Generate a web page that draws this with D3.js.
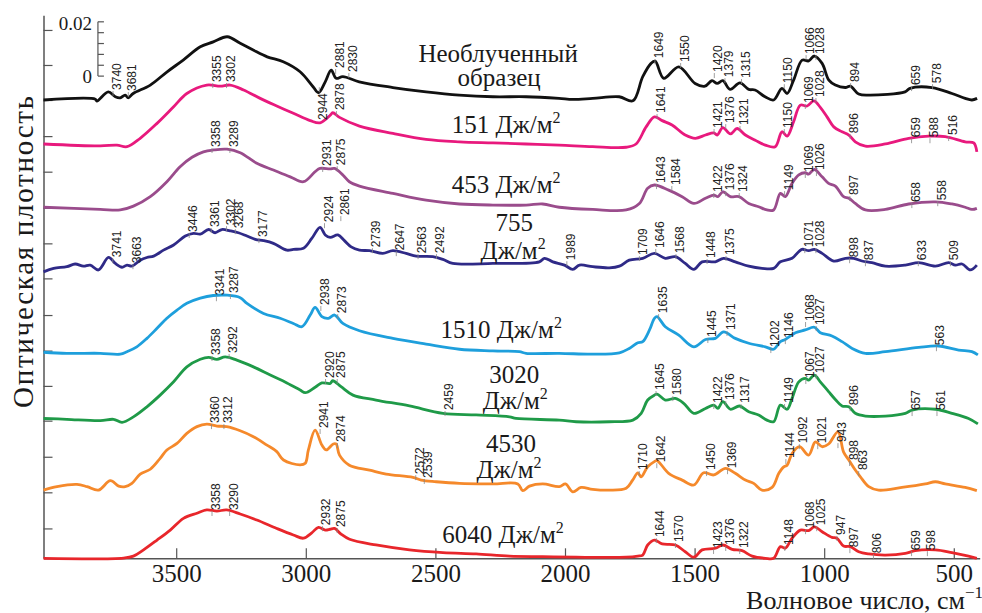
<!DOCTYPE html>
<html>
<head>
<meta charset="utf-8">
<script src="https://cdn.jsdelivr.net/npm/d3@7"></script>
<style>
  body { margin: 0; background: #fff; }
  svg { display: block; }
</style>
</head>
<body>
<script>
// IR spectra, wavenumber (cm-1) vs optical density x 1000 (curves stacked as in the figure)
const unirradiated = [[4012,168.8],[3812,169.1],[3806,168.4],[3762,171.8],[3735,170.0],[3716,169.6],[3697,170.6],[3685,169.6],[3666,171.2],[3600,174.3],[3535,179.2],[3473,183.5],[3407,188.4],[3357,190.2],[3303,192.1],[3253,189.7],[3203,187.2],[3149,184.7],[3087,182.9],[3022,179.2],[2972,173.7],[2951,171.5],[2925,175.5],[2902,179.8],[2883,176.8],[2857,177.4],[2794,175.5],[2664,173.4],[2536,171.8],[2408,170.6],[2278,170.0],[2150,170.0],[2023,169.4],[1970,169.0],[1893,169.4],[1791,170.0],[1738,168.5],[1700,177.4],[1668,182.3],[1652,183.1],[1619,176.8],[1561,181.0],[1498,174.9],[1460,173.9],[1433,175.9],[1413,174.9],[1391,175.9],[1363,172.7],[1325,175.1],[1291,172.7],[1267,172.5],[1228,170.0],[1195,168.8],[1163,173.1],[1143,171.2],[1118,176.1],[1085,183.5],[1060,183.2],[1038,185.0],[1008,182.3],[982,176.1],[957,174.3],[918,173.4],[899,173.9],[867,171.0],[828,170.6],[688,171.8],[669,173.1],[584,173.4],[507,171.2],[456,169.4],[430,168.8],[410,169.4]];

const dose151 = [[4012,152.6],[3793,151.9],[3729,152.2],[3690,151.6],[3639,154.7],[3574,160.2],[3510,166.3],[3459,171.2],[3382,174.3],[3330,173.9],[3292,174.3],[3240,172.5],[3176,169.4],[3112,166.6],[3048,163.9],[2983,161.2],[2945,160.4],[2906,163.2],[2896,164.1],[2870,162.4],[2793,159.2],[2664,156.5],[2536,154.3],[2407,153.4],[2278,153.0],[2150,152.6],[2022,152.2],[1893,151.6],[1764,151.4],[1726,152.6],[1687,158.9],[1655,162.6],[1625,161.2],[1587,159.6],[1536,155.9],[1497,154.7],[1458,155.9],[1426,156.7],[1413,155.9],[1391,158.6],[1362,156.3],[1336,158.3],[1304,155.9],[1266,154.0],[1227,152.2],[1189,151.6],[1163,157.1],[1143,155.5],[1118,160.8],[1092,166.9],[1066,166.6],[1040,168.5],[1015,166.1],[989,162.6],[963,158.9],[931,157.1],[905,155.9],[880,153.4],[841,151.8],[764,152.6],[674,154.7],[597,155.5],[533,155.3],[456,153.4],[423,153.0],[411,149.7]];

const dose453 = [[4012,129.3],[3793,128.5],[3716,128.3],[3665,129.7],[3600,133.2],[3536,138.7],[3485,144.2],[3439,147.7],[3395,149.7],[3356,150.4],[3304,150.7],[3253,149.4],[3189,145.5],[3125,143.0],[3060,140.5],[3009,138.7],[2964,142.4],[2945,143.6],[2906,143.4],[2889,143.6],[2857,141.2],[2832,138.7],[2793,137.1],[2664,134.4],[2536,131.9],[2407,130.5],[2278,130.1],[2150,130.1],[2086,130.5],[2022,129.3],[1893,128.5],[1764,128.3],[1713,130.7],[1681,136.3],[1655,137.5],[1600,135.6],[1548,133.2],[1503,130.7],[1458,132.6],[1426,133.8],[1410,133.2],[1391,135.0],[1362,133.2],[1329,133.2],[1291,130.7],[1253,129.5],[1221,128.3],[1195,128.3],[1169,134.4],[1150,133.2],[1124,138.1],[1098,141.2],[1073,142.0],[1060,141.5],[1038,143.2],[1008,140.5],[983,138.1],[957,137.1],[925,133.2],[905,132.6],[880,130.7],[841,128.3],[764,128.5],[674,130.5],[571,131.3],[507,130.5],[456,129.3],[430,128.5],[411,128.9]];

const dose755 = [[4012,105.5],[3973,106.8],[3922,107.4],[3890,108.4],[3858,107.6],[3832,108.0],[3800,106.2],[3761,110.8],[3735,108.6],[3709,107.2],[3690,108.0],[3671,107.6],[3639,109.8],[3613,110.8],[3587,111.3],[3549,113.5],[3510,115.4],[3465,118.7],[3433,119.7],[3407,119.4],[3375,121.1],[3350,119.9],[3324,121.1],[3292,120.6],[3260,119.9],[3227,118.7],[3195,117.5],[3163,117.0],[3125,116.0],[3073,113.5],[3048,113.8],[3009,114.2],[2977,117.8],[2945,121.9],[2925,119.1],[2906,118.2],[2876,119.1],[2851,117.0],[2825,114.7],[2793,113.5],[2754,113.3],[2703,112.3],[2664,113.3],[2613,112.3],[2574,111.3],[2510,111.1],[2471,110.1],[2433,108.6],[2278,108.6],[2099,109.2],[2079,110.5],[2047,109.2],[2002,108.0],[1970,106.4],[1944,108.0],[1893,107.4],[1829,107.0],[1790,107.6],[1752,109.8],[1700,110.5],[1655,112.3],[1613,110.5],[1574,111.1],[1536,108.6],[1503,106.4],[1471,109.2],[1420,109.2],[1388,110.5],[1343,109.2],[1291,107.6],[1240,106.8],[1195,106.8],[1169,109.2],[1124,110.5],[1086,113.8],[1060,113.3],[1038,113.8],[1008,112.3],[963,109.5],[918,110.5],[886,110.5],[854,109.5],[816,108.9],[764,107.6],[687,108.0],[635,108.9],[571,107.6],[520,108.9],[494,108.0],[468,108.4],[436,106.2],[411,108.0]];

const dose1510 = [[4012,75.9],[3922,75.5],[3793,75.5],[3716,75.2],[3690,76.1],[3652,77.9],[3613,81.0],[3574,84.7],[3536,88.4],[3497,91.4],[3459,93.9],[3407,95.8],[3357,96.8],[3303,96.9],[3253,96.0],[3227,93.9],[3163,90.2],[3099,88.4],[3048,86.5],[3015,85.3],[2983,89.6],[2964,92.4],[2938,89.0],[2913,88.4],[2889,89.6],[2857,86.5],[2793,83.8],[2664,81.0],[2536,78.9],[2407,77.0],[2278,76.4],[2176,76.1],[2150,75.5],[2022,75.5],[1893,75.2],[1790,75.7],[1752,77.3],[1719,79.4],[1700,79.8],[1674,84.1],[1655,88.4],[1645,89.0],[1613,85.3],[1561,82.2],[1503,77.9],[1458,80.6],[1420,81.0],[1388,83.4],[1343,81.0],[1291,79.2],[1227,77.9],[1195,77.0],[1169,79.8],[1150,80.6],[1111,83.1],[1073,84.1],[1038,85.1],[1015,83.1],[970,81.9],[931,79.8],[892,77.3],[841,75.5],[764,76.1],[635,77.7],[558,78.2],[481,76.7],[430,76.1],[407,74.9]];

const dose3020 = [[4012,51.5],[3922,51.2],[3793,50.7],[3742,51.2],[3709,50.1],[3665,52.1],[3613,55.8],[3562,60.1],[3510,65.0],[3459,70.5],[3407,73.3],[3375,74.0],[3343,73.3],[3311,74.2],[3266,73.0],[3202,70.5],[3137,67.5],[3073,64.6],[3022,62.0],[3002,61.0],[2964,63.0],[2938,64.6],[2906,64.4],[2896,65.4],[2864,63.2],[2818,60.1],[2729,58.3],[2600,56.1],[2471,53.4],[2343,52.8],[2214,52.1],[2189,51.5],[2022,50.9],[1957,50.3],[1829,50.3],[1738,50.9],[1706,53.4],[1681,58.3],[1655,60.1],[1645,60.5],[1613,58.3],[1574,58.9],[1542,57.1],[1503,53.4],[1458,55.2],[1426,56.4],[1410,55.2],[1391,57.7],[1362,54.9],[1327,56.1],[1291,54.0],[1253,52.8],[1221,50.9],[1195,50.3],[1169,56.4],[1143,54.9],[1124,58.9],[1098,65.0],[1073,66.3],[1060,65.6],[1038,67.5],[1015,65.0],[983,61.4],[957,58.5],[931,56.1],[905,55.8],[880,53.4],[841,52.4],[764,52.4],[687,53.4],[661,54.6],[571,54.9],[507,53.4],[443,51.5],[407,49.5]];

const dose4530 = [[4012,25.1],[3960,26.4],[3883,27.2],[3844,26.4],[3800,25.1],[3754,28.6],[3722,26.6],[3697,26.4],[3671,27.6],[3639,31.0],[3600,32.8],[3562,36.8],[3536,39.9],[3497,42.3],[3459,46.0],[3420,48.5],[3382,49.4],[3343,48.7],[3305,48.5],[3253,47.0],[3202,44.8],[3150,41.7],[3112,39.3],[3086,36.2],[3022,34.4],[3002,35.0],[2990,39.9],[2964,47.2],[2938,41.7],[2921,39.9],[2894,42.1],[2883,42.1],[2870,38.0],[2832,34.3],[2754,32.5],[2690,31.0],[2587,29.8],[2555,28.8],[2497,28.2],[2407,27.6],[2278,27.4],[2182,27.4],[2163,24.9],[2137,26.6],[2086,27.4],[2022,26.4],[1998,27.4],[1970,24.5],[1938,26.1],[1893,25.4],[1829,25.1],[1764,25.8],[1739,28.8],[1719,31.5],[1706,30.0],[1681,33.7],[1655,35.6],[1645,36.0],[1600,31.3],[1548,28.8],[1503,27.0],[1465,31.5],[1426,30.7],[1381,33.1],[1343,31.3],[1304,28.8],[1272,27.6],[1240,25.1],[1201,26.1],[1175,31.3],[1156,33.7],[1143,34.3],[1124,38.6],[1095,41.1],[1060,38.0],[1034,42.9],[1008,41.1],[983,42.1],[947,46.6],[925,39.1],[905,36.2],[880,32.5],[861,30.1],[828,26.4],[790,25.1],[700,26.1],[610,27.4],[571,28.2],[533,27.4],[456,26.1],[411,24.9]];

const dose6040 = [[4012,0.0],[3703,0.1],[3665,0.8],[3626,3.1],[3574,6.7],[3523,10.4],[3472,14.7],[3420,16.6],[3382,17.8],[3343,17.4],[3305,17.8],[3253,16.3],[3189,14.1],[3112,11.0],[3048,8.6],[3009,7.4],[2977,9.4],[2951,11.4],[2925,10.4],[2906,10.7],[2889,11.0],[2864,8.9],[2831,7.0],[2729,4.9],[2600,3.1],[2471,2.1],[2343,1.6],[2214,0.8],[2086,0.6],[1957,0.4],[1764,0.4],[1719,0.8],[1700,1.2],[1681,4.9],[1655,6.7],[1625,5.3],[1574,4.9],[1536,2.4],[1503,0.4],[1471,3.1],[1420,3.7],[1391,4.9],[1355,3.3],[1317,2.8],[1278,0.8],[1227,0.0],[1195,0.0],[1169,4.3],[1150,3.7],[1124,7.4],[1092,10.4],[1060,10.2],[1038,11.6],[1008,9.8],[970,7.7],[951,7.4],[925,4.5],[899,4.3],[867,2.4],[828,1.6],[764,1.2],[687,1.8],[649,2.8],[571,3.1],[507,2.1],[443,0.8],[411,0.0]];

// peak labels: [wavenumber, level of the label foot]; 'below' hangs the label under the curve
const peaks0 = [[3740,172.5],[3681,172.1],[2944,171.3,'below'],[2881,180.6],[2830,179.1],[1649,184.2],[1550,182.8],[1420,179.1],[1379,177.2],[1315,176.9],[1150,175.0],[1066,185.7],[1028,185.7],[894,175.4],[659,174.3],[578,175.0]];
const peaks1 = [[3355,175.4],[3302,175.4],[2878,165.1],[1641,164.0],[1421,158.5],[1376,160.3],[1321,159.6],[1150,158.5],[1069,167.7],[1028,169.9],[896,156.6],[659,155.1],[588,155.1],[516,155.9]];
const peaks2 = [[3358,151.5],[3289,151.5],[2931,144.5],[2875,144.8],[1643,138.2],[1584,137.5],[1422,134.9],[1376,135.6],[1324,134.9],[1149,135.6],[1069,142.3],[1026,143.0],[897,133.8],[658,131.2],[558,131.9]];
const peaks3 = [[3741,110.9],[3663,108.7],[3446,120.2],[3361,122.0],[3302,122.7],[3268,121.6],[3177,118.3],[2924,123.8],[2861,126.4],[2739,114.6],[2647,113.5],[2563,112.4],[2492,112.4],[1989,109.8],[1709,111.7],[1646,114.3],[1568,112.4],[1448,110.6],[1375,111.7],[1071,114.6],[1028,114.6],[898,110.9],[837,109.8],[633,109.8],[509,109.8]];
const peaks4 = [[3341,96.9],[3287,97.7],[2938,93.3],[2873,90.3],[1635,90.3],[1445,81.5],[1371,84.1],[1202,77.8],[1146,81.1],[1068,87.4],[1027,85.9],[563,78.5]];
const peaks5 = [[3358,74.9],[3292,75.6],[2920,66.4],[2875,66.4],[2459,54.6],[1645,62.0],[1580,60.1],[1422,57.2],[1376,58.3],[1317,57.2],[1149,57.2],[1067,66.4],[1027,68.2],[896,56.4],[657,54.6],[561,54.6]];
const peaks6 = [[3360,49.8],[3312,49.8],[2941,48.0],[2874,42.8],[2572,31.0],[2539,29.6],[1710,32.5],[1642,35.4],[1450,32.5],[1369,33.2],[1144,36.9],[1092,42.4],[1021,42.4],[943,42.8],[898,36.2],[863,32.5]];
const peaks7 = [[3358,17.8],[3290,17.8],[2932,12.2],[2875,11.5],[1644,7.8],[1570,6.0],[1423,3.8],[1376,4.9],[1322,3.8],[1148,4.9],[1068,11.1],[1025,12.2],[947,8.6],[897,4.1],[806,1.9],[659,3.0],[598,3.0]];

// curve captions: [wavenumber of centre, level of baseline, text, superscript]
const captions = [
  [2258, 182.8, 'Необлученный', ''],
  [2254, 174.0, 'образец', ''],
  [2227, 156.6, '151 Дж/м', '2'],
  [2227, 134.4, '453 Дж/м', '2'],
  [2196, 120.4, '755', ''],
  [2200, 110.4, 'Дж/м', '2'],
  [2246, 81.1, '1510 Дж/м', '2'],
  [2196, 64.7, '3020', ''],
  [2192, 55.1, 'Дж/м', '2'],
  [2208, 39.3, '4530', ''],
  [2216, 29.7, 'Дж/м', '2'],
  [2239, 5.6, '6040 Дж/м', '2']
];

const xTicks = [3500, 3000, 2500, 2000, 1500, 1000, 500];
const yTicks = [11.0, 24.3, 37.4, 50.7, 63.5, 76.5, 89.6, 103.1, 116.0, 129.1, 142.4, 155.5, 168.8, 181.7, 194.6];
// 0.02 scale bar (x1000 units)
const scaleBar = { w: 3802, from: 177.6, to: 197.6, step: 4 };

const spectra = [unirradiated, dose151, dose453, dose755, dose1510, dose3020, dose4530, dose6040];
const peaks = [peaks0, peaks1, peaks2, peaks3, peaks4, peaks5, peaks6, peaks7];
const colors = ['#111111', '#e8197d', '#9a4c8c', '#2f2a87', '#1e9fdc', '#1f9a48', '#f5892b', '#e8262b'];

const serif = "'Liberation Serif', 'Times New Roman', serif";
const sans = "'Liberation Sans', Arial, sans-serif";

const width = 982, height = 613;
const svg = d3.select('body').append('svg')
  .attr('width', width)
  .attr('height', height);

const x = d3.scaleLinear().domain([4012, 400]).range([43.5, 979.7]);
const y = d3.scaleLinear().domain([0, 200]).range([558.3, 15.3]);

// axes
const xAxis = svg.append('g')
  .attr('transform', 'translate(0,' + y(0) + ')')
  .call(d3.axisBottom(x).tickValues(xTicks).tickSize(-10).tickSizeOuter(0).tickFormat(d3.format('d')));
xAxis.select('.domain').attr('stroke', '#555').attr('stroke-width', 1.5);
xAxis.selectAll('.tick line').attr('stroke', '#555').attr('stroke-width', 1.2);
xAxis.selectAll('.tick text')
  .attr('y', 23.4).attr('dy', null)
  .attr('font-family', serif).attr('font-size', 25).attr('fill', '#1a1a1a');

const yAxis = svg.append('g')
  .attr('transform', 'translate(' + x(4012) + ',0)')
  .call(d3.axisLeft(y).tickValues(yTicks).tickSize(-9).tickSizeOuter(0).tickFormat(''));
yAxis.select('.domain').attr('stroke', '#555').attr('stroke-width', 1.5);
yAxis.selectAll('.tick line').attr('stroke', '#555').attr('stroke-width', 1.2);

// scale bar
const sb = svg.append('g').attr('stroke', '#555').attr('stroke-width', 1.2);
sb.append('line')
  .attr('x1', x(scaleBar.w)).attr('x2', x(scaleBar.w))
  .attr('y1', y(scaleBar.from)).attr('y2', y(scaleBar.to));
sb.selectAll('line.t')
  .data(d3.range(scaleBar.from, scaleBar.to + 0.01, scaleBar.step))
  .join('line').attr('class', 't')
  .attr('x1', x(scaleBar.w)).attr('x2', x(scaleBar.w) + 6)
  .attr('y1', d => y(d)).attr('y2', d => y(d));
svg.append('text')
  .attr('x', x(scaleBar.w) - 6).attr('y', y(scaleBar.to) + 8.5)
  .attr('text-anchor', 'end').attr('font-family', serif).attr('font-size', 19).attr('fill', '#1a1a1a')
  .text('0.02');
svg.append('text')
  .attr('x', x(scaleBar.w) - 6).attr('y', y(scaleBar.from) + 6.5)
  .attr('text-anchor', 'end').attr('font-family', serif).attr('font-size', 19).attr('fill', '#1a1a1a')
  .text('0');

// spectra
const line = d3.line()
  .x(d => x(d[0]))
  .y(d => y(d[1]))
  .curve(d3.curveCatmullRom.alpha(0.5));

svg.append('g').selectAll('path')
  .data(spectra)
  .join('path')
  .attr('d', line)
  .attr('fill', 'none')
  .attr('stroke', (d, i) => colors[i])
  .attr('stroke-width', 2.8)
  .attr('stroke-linejoin', 'round');

// peak labels with their little marker strokes
const lab = svg.append('g').attr('font-family', sans).attr('font-size', 12).attr('fill', '#222');
const marks = svg.append('g').attr('stroke', '#888').attr('stroke-width', 0.8);
peaks.forEach(list => {
  list.forEach(([w, v, pos]) => {
    const px = x(w) + 3, py = y(v);
    const below = pos === 'below';
    lab.append('text')
      .attr('transform', 'translate(' + px + ',' + py + ') rotate(-90)')
      .attr('text-anchor', below ? 'end' : 'start')
      .attr('dominant-baseline', 'central')
      .text(w);
    marks.append('line')
      .attr('x1', x(w) - 1).attr('x2', x(w) - 1)
      .attr('y1', below ? py - 1 : py + 1)
      .attr('y2', below ? py - 6 : py + 6);
  });
});

// captions
captions.forEach(([w, v, t, sup]) => {
  const tx = svg.append('text')
    .attr('x', x(w)).attr('y', y(v))
    .attr('text-anchor', 'middle')
    .attr('font-family', serif).attr('font-size', 25).attr('fill', '#1a1a1a')
    .text(t);
  if (sup) tx.append('tspan').attr('dy', -10).attr('font-size', 16).text(sup);
});

// axis titles
svg.append('text')
  .attr('transform', 'translate(33,252) rotate(-90)')
  .attr('text-anchor', 'middle')
  .attr('font-family', serif).attr('font-size', 29).attr('fill', '#1a1a1a')
  .attr('textLength', 312).attr('lengthAdjust', 'spacing')
  .text('Оптическая плотность');

const xt = svg.append('text')
  .attr('x', 983).attr('y', 609)
  .attr('text-anchor', 'end')
  .attr('font-family', serif).attr('font-size', 26).attr('fill', '#1a1a1a')
  .text('Волновое число, см');
xt.append('tspan').attr('dy', -11).attr('font-size', 17).text('−1');
</script>
</body>
</html>
